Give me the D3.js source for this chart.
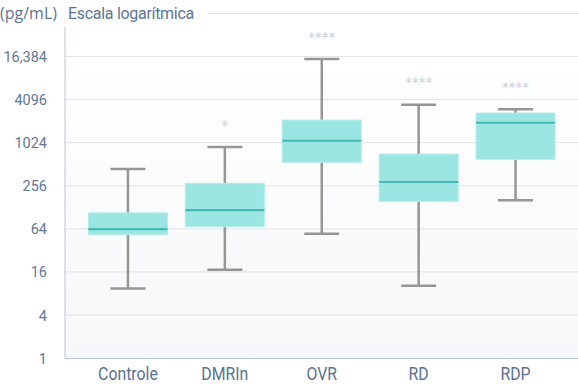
<!DOCTYPE html>
<html><head><meta charset="utf-8">
<script src="https://cdn.jsdelivr.net/npm/d3@7"></script>
<style>
body{margin:0;background:#fff;}
svg{display:block;}
</style></head>
<body>
<svg id="chart" width="578" height="390"></svg>
<script>
const categories = ["Controle", "DMRIn", "OVR", "RD", "RDP"];
const whiskerLow  = [9.4, 17.2, 54.6, 10.2, 161];
const q1          = [53, 68.5, 544, 155, 599];
const median      = [63.5, 117, 1090, 289, 1946];
const q3          = [107, 277, 2123, 710, 2658];
const whiskerHigh = [438, 890, 15120, 3473, 2994];
const significance = ["", "*", "****", "****", "****"];
const tickValues = [1, 4, 16, 64, 256, 1024, 4096, 16384];
const tickLabels = ["1", "4", "16", "64", "256", "1024", "4096", "16,384"];

(function(){
const svg = d3.select("#chart");
const mLeft = 65, mBottom = 358, mTop = 13.5, mRight = 578;

const y = d3.scaleLog().base(4).domain([1, 65536]).range([mBottom, mTop]);
const x = d3.scaleBand().domain(categories).range([79.5, 564]).paddingInner(0.185).paddingOuter(0.0925);

const defs = svg.append("defs");
const grad = defs.append("linearGradient").attr("id","bg").attr("x1",0).attr("y1",0).attr("x2",0).attr("y2",1);
grad.append("stop").attr("offset","0%").attr("stop-color","#ffffff");
grad.append("stop").attr("offset","100%").attr("stop-color","#f6f7f9");
svg.append("rect").attr("x", mLeft).attr("y", y(16384)).attr("width", mRight-mLeft).attr("height", mBottom - y(16384)).attr("fill","url(#bg)");

// gridlines
const gridVals = tickValues.concat([65536]).filter(v => v > 1);
svg.append("g").selectAll("line").data(gridVals).join("line")
  .attr("x1", d => d === 65536 ? 207 : mLeft).attr("x2", mRight)
  .attr("y1", d => y(d)).attr("y2", d => y(d))
  .attr("stroke", "#e3e3e7").attr("stroke-width", 1);

// y axis
const yAxis = d3.axisLeft(y).tickValues(tickValues).tickFormat(d => tickLabels[tickValues.indexOf(d)]).tickSize(0).tickPadding(18);
const gy = svg.append("g").attr("transform", `translate(${mLeft},0)`).call(yAxis);
gy.select(".domain").remove();
gy.selectAll("text").attr("fill","#62789a").style("font-family","Roboto, 'Liberation Sans', sans-serif").style("font-size","14.5px").attr("dy","0.35em");
svg.append("line").attr("x1", mLeft).attr("x2", mLeft).attr("y1", 27).attr("y2", mBottom).attr("stroke","#b9c3d6").attr("stroke-width",1);

// x axis (labels)
const xAxis = d3.axisBottom(x).tickSize(0).tickPadding(0);
const gx = svg.append("g").attr("transform", `translate(0,${mBottom})`).call(xAxis);
gx.select(".domain").remove();
gx.selectAll(".tick text").attr("y", 0).attr("dy", 0)
  .attr("transform", "translate(0,21.5) scale(0.88,1)")
  .attr("fill","#5b7191").style("font-family","Roboto, 'Liberation Sans', sans-serif").style("font-size","18px");
svg.append("line").attr("x1", mLeft).attr("x2", mRight).attr("y1", mBottom+0.5).attr("y2", mBottom+0.5).attr("stroke","#b9c3d6").attr("stroke-width",1);

// boxes
const bw = x.bandwidth();
const capW = 35;
const data = categories.map((c,i) => ({c, lo: whiskerLow[i], q1: q1[i], med: median[i], q3: q3[i], hi: whiskerHigh[i], sig: significance[i]}));
const g = svg.append("g").selectAll("g").data(data).join("g").attr("transform", d => `translate(${x(d.c)},0)`);
const cx = bw/2;
g.append("line").attr("x1", cx).attr("x2", cx).attr("y1", d => y(d.hi)).attr("y2", d => y(d.lo)).attr("stroke","#969696").attr("stroke-width",2.5);
g.append("line").attr("x1", cx-capW/2).attr("x2", cx+capW/2).attr("y1", d => y(d.hi)).attr("y2", d => y(d.hi)).attr("stroke","#969696").attr("stroke-width",2.5);
g.append("line").attr("x1", cx-capW/2).attr("x2", cx+capW/2).attr("y1", d => y(d.lo)).attr("y2", d => y(d.lo)).attr("stroke","#969696").attr("stroke-width",2.5);
g.append("rect").attr("x", 0).attr("width", bw).attr("y", d => y(d.q3)).attr("height", d => y(d.q1) - y(d.q3))
  .attr("fill","#9be5e2").attr("stroke","#b4ecea").attr("stroke-width",1);
g.append("line").attr("x1", 0).attr("x2", bw).attr("y1", d => y(d.med)).attr("y2", d => y(d.med)).attr("stroke","#45b9b5").attr("stroke-width",2.2);
g.append("text").attr("x", cx).attr("y", d => y(d.hi) - 27).attr("dy","0.72em").attr("text-anchor","middle")
  .attr("fill","#c9d0db").style("font-family","'DejaVu Sans', sans-serif").style("font-size","13.5px").text(d => d.sig);

// title
const title = svg.append("text").attr("x", 0).attr("y", 19).attr("fill","#5f7595").style("font-family","'Open Sans', 'Noto Sans', sans-serif");
title.append("tspan").style("font-size","16px").text("(pg/mL)");
title.append("tspan").attr("x", 68).style("font-family","Roboto, 'Liberation Sans', sans-serif").style("font-size","16px").style("letter-spacing","-0.3px").text("Escala logarítmica");
})();
</script>
</body></html>
